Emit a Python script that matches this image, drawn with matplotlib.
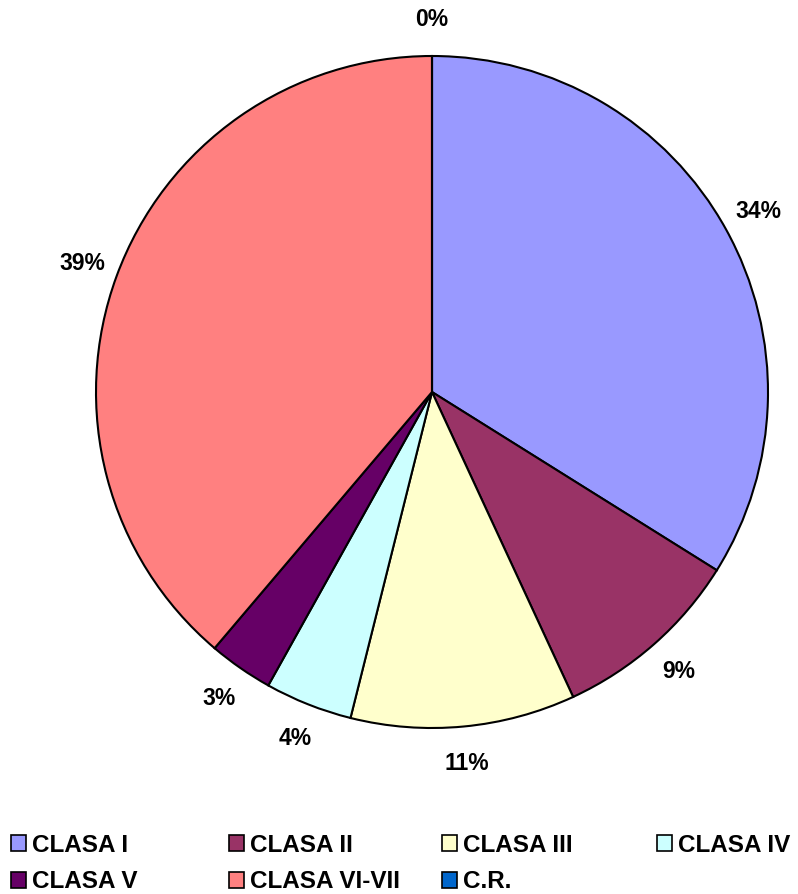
import matplotlib
matplotlib.use("Agg")
import matplotlib.pyplot as plt
from matplotlib.patches import Patch

categories = ["CLASA I", "CLASA II", "CLASA III", "CLASA IV", "CLASA V", "CLASA VI-VII", "C.R."]
values = [33.9, 9.2, 10.8, 4.2, 3.1, 38.8, 0.0]
colors = ["#9999FF", "#993366", "#FFFFCC", "#CCFFFF", "#660066", "#FF8080", "#0066CC"]

plt.rcParams['font.family'] = ['Liberation Sans', 'DejaVu Sans']

W, H = 798, 894
fig = plt.figure(figsize=(W / 100, H / 100), dpi=100)
cx, cy, R, half = 432, 392, 336, 380
ax = fig.add_axes([(cx - half) / W, (H - cy - half) / H, 2 * half / W, 2 * half / H])
lim = half / R
ax.set_aspect('equal')
ax.axis('off')

wedges, texts, autotexts = ax.pie(
    values, colors=colors, startangle=90, counterclock=False,
    autopct=lambda p: f"{p:.0f}%", pctdistance=1.11,
    wedgeprops=dict(edgecolor='black', linewidth=1.5),
    textprops=dict(fontsize=16.5, fontweight='bold', color='black'),
    radius=1.0, frame=False)
ax.set_xlim(-lim, lim)
ax.set_ylim(-lim, lim)
for t in autotexts:
    t.set_clip_on(False)

col_x = [12, 230, 443, 658]
cols = [[0, 4], [1, 5], [2, 6], [3]]
for x, idx in zip(col_x, cols):
    handles = [Patch(facecolor=colors[i], edgecolor='black', linewidth=1.2) for i in idx]
    labels = [categories[i] for i in idx]
    fig.legend(handles, labels, loc='upper left',
               bbox_to_anchor=((x - 6) / W, 1 - 829 / H),
               frameon=False, handlelength=0.62, handleheight=0.62,
               handletextpad=0.25, labelspacing=0.55, borderpad=0.2,
               borderaxespad=0,
               prop=dict(size=17.5, weight='bold'))

fig.savefig("out.png", dpi=100)
